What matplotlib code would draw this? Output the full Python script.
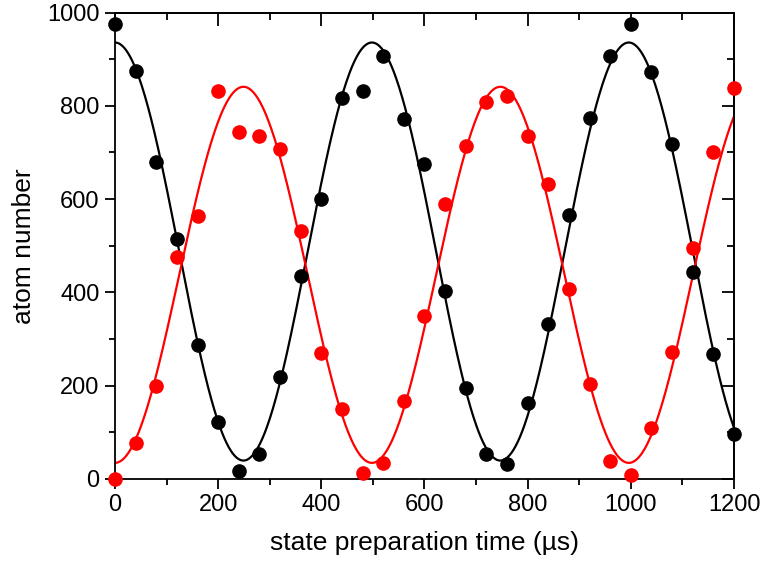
import numpy as np
import matplotlib.pyplot as plt
from matplotlib.ticker import MultipleLocator

plt.rcParams['font.family'] = ['Liberation Sans', 'DejaVu Sans']

# measured points, every 40 us
t_us = [0, 40, 80, 120, 160, 200, 240, 280, 320, 360, 400, 440, 480, 520, 560, 600,
        640, 680, 720, 760, 800, 840, 880, 920, 960, 1000, 1040, 1080, 1120, 1160, 1200]
black_atoms = [975, 874, 679, 514, 288, 122, 17, 54, 219, 435, 600, 818, 832, 908, 772, 675,
               403, 194, 53, 31, 162, 331, 566, 773, 907, 976, 872, 718, 444, 268, 97]
red_atoms = [0, 77, 200, 476, 563, 831, 745, 736, 707, 532, 269, 150, 12, 33, 167, 349,
             589, 714, 809, 821, 735, 632, 408, 203, 38, 9, 109, 271, 496, 702, 838]

# cosine fit parameters (offset, amplitude, period)
black_fit = (487.5, 448.5, 498.0)
red_fit = (437.5, -403.5, 498.0)

fig = plt.figure(figsize=(7.6, 5.64), dpi=100)
ax = fig.add_axes([0.1513, 0.1512, 0.8145, 0.8263])

tt = np.linspace(0, 1200, 600)
for fit, col in [(black_fit, 'black'), (red_fit, 'red')]:
    off, amp, per = fit
    ax.plot(tt, off + amp*np.cos(2*np.pi*tt/per), color=col, lw=1.6, zorder=2)

ax.plot(t_us, black_atoms, 'o', color='black', ms=9.5, zorder=3, clip_on=False)
ax.plot(t_us, red_atoms, 'o', color='red', ms=9.5, zorder=3, clip_on=False)

ax.set_xlim(0, 1200)
ax.set_ylim(0, 1000)
ax.xaxis.set_major_locator(MultipleLocator(200))
ax.xaxis.set_minor_locator(MultipleLocator(100))
ax.yaxis.set_major_locator(MultipleLocator(200))
ax.yaxis.set_minor_locator(MultipleLocator(100))
ax.tick_params(which='both', direction='out', width=1.3, labelsize=17, top=False, right=False)
ax.tick_params(which='major', length=7.5)
ax.tick_params(which='minor', length=4)
for s in ax.spines.values():
    s.set_linewidth(1.3)

# mirrored inward ticks on top and right
sec_x = ax.secondary_xaxis('top')
sec_x.xaxis.set_major_locator(MultipleLocator(200))
sec_x.xaxis.set_minor_locator(MultipleLocator(100))
sec_x.tick_params(which='both', direction='in', width=1.3, labeltop=False)
sec_x.tick_params(which='major', length=9)
sec_x.tick_params(which='minor', length=5)
sec_y = ax.secondary_yaxis('right')
sec_y.yaxis.set_major_locator(MultipleLocator(200))
sec_y.yaxis.set_minor_locator(MultipleLocator(100))
sec_y.tick_params(which='both', direction='in', width=1.3, labelright=False)
sec_y.tick_params(which='major', length=9)
sec_y.tick_params(which='minor', length=5)
for s in list(sec_x.spines.values()) + list(sec_y.spines.values()):
    s.set_linewidth(1.3)

ax.set_xlabel('state preparation time (µs)', fontsize=19, labelpad=11)
ax.set_ylabel('atom number', fontsize=19, labelpad=8)

fig.savefig('out.png', dpi=100)
